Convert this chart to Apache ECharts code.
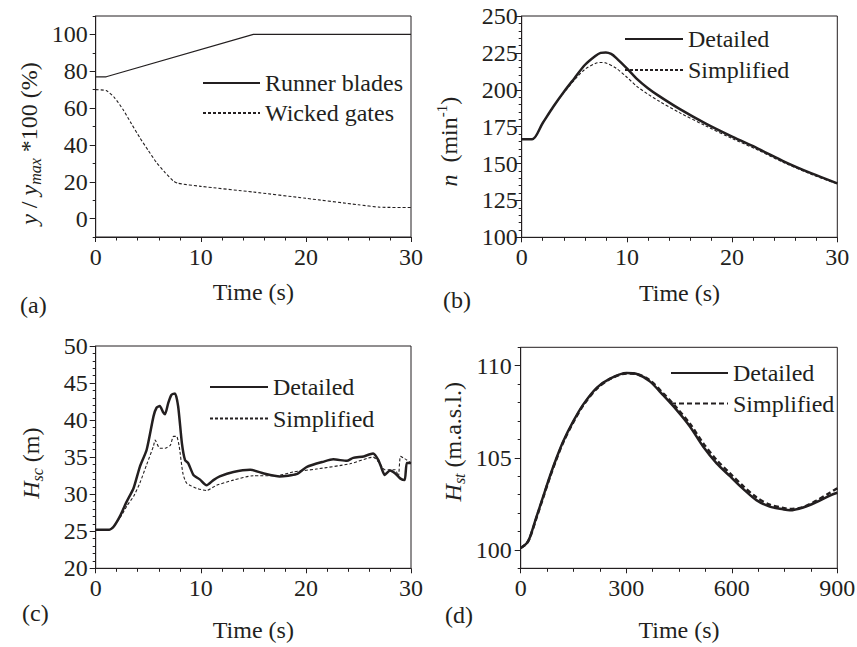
<!DOCTYPE html>
<html>
<head>
<meta charset="utf-8">
<script src="https://cdn.jsdelivr.net/npm/echarts@6/dist/echarts.min.js"></script>
<style>
html,body{margin:0;padding:0;background:#fff;}
#c{width:857px;height:647px;}
</style>
</head>
<body>
<div id="c"></div>
<script>
// ---- Panel (a): guide vane / runner blade openings ----
const runnerT = [0, 1, 15, 30];
const runnerY = [77, 77, 100, 100];
const gatesT = [0, 1, 1.8, 2.6, 3.4, 4.2, 5, 5.8, 6.6, 7.4, 7.8, 10, 15, 20, 25, 27, 30];
const gatesY = [70, 69.5, 65.6, 59.2, 51.5, 43.9, 37, 30.3, 25, 20.4, 19.2, 17.5, 14.4, 11, 7.5, 6.2, 6];

// ---- Panel (b): rotational speed ----
const nDetT = [0, 1, 2, 3, 4, 5, 6, 7, 7.5, 8, 8.5, 9, 10, 11, 12, 13, 15, 17.5, 20, 22.5, 25, 27.5, 30];
const nDetY = [166.5, 166.5, 177.5, 188.5, 198.5, 207.7, 216.8, 222.9, 225, 225.3, 224.3, 221.5, 214.5, 207, 201, 196, 187, 177, 168.2, 160, 151.2, 143.5, 136.6];
const nSimT = [0, 1, 2, 3, 4, 5, 6, 7, 7.5, 8, 9, 10, 11, 12, 13, 15, 17.5, 20, 22.5, 25, 27.5, 30];
const nSimY = [166.5, 166.5, 177.5, 188.5, 198, 206.5, 213.8, 217.8, 218.5, 218.2, 214.5, 208.5, 202, 197, 192.5, 184.5, 175.5, 167, 159, 150.3, 142.8, 136.2];

// ---- Panel (c): spiral case head ----
const hscDetT = [0, 1.3, 1.7, 2.3, 2.95, 3.6, 4.2, 4.85, 5.5, 5.8, 6.1, 6.4, 6.6, 6.9, 7.2, 7.55, 7.85, 8.2, 8.5, 8.8, 9.3, 9.9, 10.55, 11.2, 11.8, 13.1, 14.7, 16, 17.5, 19.1, 20.1, 21.7, 22.6, 23.9, 24.5, 25.5, 26.1, 26.4, 26.9, 27.2, 27.5, 28, 28.5, 29, 29.4, 29.6, 30];
const hscDetY = [25.2, 25.2, 25.6, 27, 29, 30.8, 33.7, 36, 40.5, 41.7, 41.9, 41.1, 40.8, 42.3, 43.4, 43.6, 41.8, 36.9, 34.6, 34.2, 32.6, 32, 31.2, 31.9, 32.4, 33, 33.3, 32.8, 32.4, 32.7, 33.7, 34.4, 34.7, 34.5, 34.9, 35.1, 35.4, 35.5, 34.6, 33.5, 32.6, 33.2, 32.8, 32.1, 31.9, 34.2, 34.2];
const hscSimT = [0, 1.3, 2.3, 3, 3.6, 4.2, 4.85, 5.5, 5.65, 6.1, 6.6, 7.1, 7.4, 7.7, 7.95, 8.3, 8.65, 9.6, 10.55, 11.5, 13.1, 15, 17.2, 18.8, 21, 24.2, 26.4, 27, 27.5, 28, 28.5, 28.8, 29, 29.4, 30];
const hscSimY = [25.2, 25.2, 26.8, 28.5, 29.7, 31.5, 34, 36.5, 37.3, 36.2, 36.2, 36.6, 37.8, 37.8, 36.4, 32.8, 31.5, 30.8, 30.5, 31.2, 31.9, 32.5, 32.5, 33, 33.4, 34.1, 35, 34.2, 33.3, 33.3, 33.3, 32.4, 35.1, 34.8, 34.2];

// ---- Panel (d): surge tank level ----
const hstT = [0, 17, 26.5, 45, 64, 83, 102, 121, 150, 178, 216, 254, 301, 330, 367, 405, 443, 481, 519, 557, 595, 633, 670, 708, 746, 765, 803, 841, 879, 900];
const hstDetY = [100.1, 100.36, 100.7, 101.8, 102.9, 104, 105, 105.9, 107, 107.9, 108.8, 109.3, 109.6, 109.55, 109.15, 108.4, 107.6, 106.7, 105.6, 104.7, 104.0, 103.3, 102.7, 102.35, 102.2, 102.15, 102.3, 102.6, 102.95, 103.1];
const hstSimY = [100.1, 100.35, 100.68, 101.75, 102.85, 103.95, 104.95, 105.85, 106.95, 107.85, 108.75, 109.28, 109.58, 109.55, 109.2, 108.5, 107.72, 106.85, 105.78, 104.88, 104.15, 103.45, 102.85, 102.45, 102.28, 102.22, 102.32, 102.68, 103.1, 103.35];

// ---- axis tick labels ----
const aYLabels = [0, 20, 40, 60, 80, 100];
const dYLabels = [100, 105, 110];

const pairs = (t, v) => t.map((x, i) => [x, v[i]]);

const INK = '#231f20';
const FONT = "'Liberation Serif', 'Times New Roman', Times, serif";
const FS = 24;

function xAxisCfg(grid, max, interval, split, nameGap) {
  return {
    type: 'value', gridIndex: grid, min: 0, max: max, interval: interval,
    name: 'Time (s)', nameLocation: 'middle', nameGap: nameGap,
    nameTextStyle: {color: INK, fontFamily: FONT, fontSize: FS},
    axisLine: {show: true, onZero: false, lineStyle: {color: INK, width: 1}},
    axisTick: {show: true, length: 5, lineStyle: {color: INK}},
    minorTick: {show: true, splitNumber: split, length: 3.5, lineStyle: {color: INK}},
    axisLabel: {color: INK, fontFamily: FONT, fontSize: FS, margin: 8},
    splitLine: {show: false}
  };
}

const nameBase = {color: INK, fontFamily: FONT, fontSize: FS};

function legendCfg(left, top, gap, w, names) {
  return {
    left: left, top: top, orient: 'vertical', itemWidth: w, itemHeight: 14, itemGap: gap,
    padding: 0,
    data: names, formatter: n => n.slice(2),
    itemStyle: {opacity: 0, borderWidth: 0},
    textStyle: {color: INK, fontFamily: FONT, fontSize: FS}, selectedMode: false
  };
}

const option = {
  backgroundColor: '#fff',
  animation: false,
  grid: [
    {left: 95.7, top: 16, width: 315.3, height: 221, show: true, borderColor: INK, borderWidth: 1, outerBoundsMode: 'none'},
    {left: 521.7, top: 16, width: 315.6, height: 221.3, show: true, borderColor: INK, borderWidth: 1, outerBoundsMode: 'none'},
    {left: 95.7, top: 346, width: 315.3, height: 222.3, show: true, borderColor: INK, borderWidth: 1, outerBoundsMode: 'none'},
    {left: 520.7, top: 347.3, width: 316.6, height: 221, show: true, borderColor: INK, borderWidth: 1, outerBoundsMode: 'none'}
  ],
  xAxis: [
    xAxisCfg(0, 30, 10, 5, 43),
    xAxisCfg(1, 30, 10, 5, 44),
    xAxisCfg(2, 30, 10, 5, 50),
    xAxisCfg(3, 900, 300, 4, 50)
  ],
  yAxis: [
    // (a) main
    {
      type: 'value', gridIndex: 0, position: 'left', min: -10, max: 110, interval: 10,
      name: '{i|y} / {i|y}{sub|max}{n| *100 (%)}', nameLocation: 'middle', nameRotate: 90, nameGap: 52,
      nameTextStyle: {
        color: INK, fontFamily: FONT, fontSize: FS, padding: [0, 34, 0, 0],
        rich: {
          i: Object.assign({fontStyle: 'italic'}, nameBase),
          n: Object.assign({}, nameBase),
          sub: {color: INK, fontFamily: FONT, fontSize: 16, fontStyle: 'italic', padding: [14, 0, 0, 0]}
        }
      },
      axisLine: {show: true, onZero: false, lineStyle: {color: INK, width: 1}},
      axisTick: {show: true, length: 6, customValues: aYLabels, lineStyle: {color: INK}},
      axisLabel: {color: INK, fontFamily: FONT, fontSize: FS, margin: 8, customValues: aYLabels},
      splitLine: {show: false}
    },
    // (a) minor ticks
    {
      type: 'value', gridIndex: 0, position: 'left', min: -10, max: 110, interval: 10,
      axisLine: {show: false, onZero: false}, axisTick: {show: true, length: 3, lineStyle: {color: INK}},
      axisLabel: {show: false}, splitLine: {show: false}
    },
    // (b)
    {
      type: 'value', gridIndex: 1, position: 'left', min: 100, max: 250, interval: 25,
      name: '{i|n}  (min{sup|-1})', nameLocation: 'middle', nameRotate: 90, nameGap: 58,
      nameTextStyle: {
        color: INK, fontFamily: FONT, fontSize: FS, padding: [0, 30, 0, 0],
        rich: {
          i: Object.assign({fontStyle: 'italic'}, nameBase),
          sup: {color: INK, fontFamily: FONT, fontSize: 15, padding: [0, 0, 14, 0]}
        }
      },
      axisLine: {show: true, onZero: false, lineStyle: {color: INK, width: 1}},
      axisTick: {show: true, length: 6, lineStyle: {color: INK}},
      minorTick: {show: true, splitNumber: 5, length: 3, lineStyle: {color: INK}},
      axisLabel: {color: INK, fontFamily: FONT, fontSize: FS, margin: 4},
      splitLine: {show: false}
    },
    // (c)
    {
      type: 'value', gridIndex: 2, position: 'left', min: 20, max: 50, interval: 5,
      name: '{i|H}{sub|sc}{n| (m)}', nameLocation: 'middle', nameRotate: 90, nameGap: 50,
      nameTextStyle: {
        color: INK, fontFamily: FONT, fontSize: FS, padding: [0, 12, 0, 0],
        rich: {
          i: Object.assign({fontStyle: 'italic'}, nameBase),
          n: Object.assign({}, nameBase),
          sub: {color: INK, fontFamily: FONT, fontSize: 16, fontStyle: 'italic', padding: [14, 0, 0, 0]}
        }
      },
      axisLine: {show: true, onZero: false, lineStyle: {color: INK, width: 1}},
      axisTick: {show: true, length: 6, lineStyle: {color: INK}},
      minorTick: {show: true, splitNumber: 5, length: 3, lineStyle: {color: INK}},
      axisLabel: {color: INK, fontFamily: FONT, fontSize: FS, margin: 8},
      splitLine: {show: false}
    },
    // (d) main
    {
      type: 'value', gridIndex: 3, position: 'left', min: 99, max: 111, interval: 1,
      name: '{i|H}{sub|st}{n| (m.a.s.l.)}', nameLocation: 'middle', nameRotate: 90, nameGap: 53,
      nameTextStyle: {
        color: INK, fontFamily: FONT, fontSize: FS, padding: [0, 0, 0, 32],
        rich: {
          i: Object.assign({fontStyle: 'italic'}, nameBase),
          n: Object.assign({}, nameBase),
          sub: {color: INK, fontFamily: FONT, fontSize: 16, fontStyle: 'italic', padding: [14, 0, 0, 0]}
        }
      },
      axisLine: {show: true, onZero: false, lineStyle: {color: INK, width: 1}},
      axisTick: {show: true, length: 6, customValues: dYLabels, lineStyle: {color: INK}},
      axisLabel: {color: INK, fontFamily: FONT, fontSize: FS, margin: 9, customValues: dYLabels},
      splitLine: {show: false}
    },
    // (d) minor ticks
    {
      type: 'value', gridIndex: 3, position: 'left', min: 99, max: 111, interval: 1,
      axisLine: {show: false, onZero: false}, axisTick: {show: true, length: 3, lineStyle: {color: INK}},
      axisLabel: {show: false}, splitLine: {show: false}
    }
  ],
  legend: [
    legendCfg(202, 71, 6, 57, ['a:Runner blades', 'a:Wicked gates']),
    legendCfg(624, 27, 7, 58, ['b:Detailed', 'b:Simplified']),
    legendCfg(209, 375, 7.6, 58, ['c:Detailed', 'c:Simplified']),
    legendCfg(670, 361, 6.6, 57, ['d:Detailed', 'd:Simplified'])
  ],
  graphic: [
    {type: 'text', x: 20, y: 305, style: {text: '(a)', fill: INK, fontFamily: FONT, fontSize: FS, verticalAlign: 'middle'}},
    {type: 'text', x: 443, y: 300, style: {text: '(b)', fill: INK, fontFamily: FONT, fontSize: FS, verticalAlign: 'middle'}},
    {type: 'text', x: 22, y: 613, style: {text: '(c)', fill: INK, fontFamily: FONT, fontSize: FS, verticalAlign: 'middle'}},
    {type: 'text', x: 445, y: 615, style: {text: '(d)', fill: INK, fontFamily: FONT, fontSize: FS, verticalAlign: 'middle'}}
  ],
  series: [
    {name: 'a:Runner blades', type: 'line', xAxisIndex: 0, yAxisIndex: 0, data: pairs(runnerT, runnerY),
     symbol: 'none', lineStyle: {color: INK, width: 1.2}, itemStyle: {color: INK}},
    {name: 'a:Wicked gates', type: 'line', xAxisIndex: 0, yAxisIndex: 0, data: pairs(gatesT, gatesY),
     symbol: 'none', smooth: 0.2, lineStyle: {color: INK, width: 1.1, type: [3, 2]}, itemStyle: {color: INK}},
    {name: 'b:Detailed', type: 'line', xAxisIndex: 1, yAxisIndex: 2, data: pairs(nDetT, nDetY),
     symbol: 'none', smooth: 0.3, lineStyle: {color: INK, width: 2.5}, itemStyle: {color: INK}},
    {name: 'b:Simplified', type: 'line', xAxisIndex: 1, yAxisIndex: 2, data: pairs(nSimT, nSimY),
     symbol: 'none', smooth: 0.3, lineStyle: {color: INK, width: 1.1, type: [3, 2]}, itemStyle: {color: INK}},
    {name: 'c:Detailed', type: 'line', xAxisIndex: 2, yAxisIndex: 3, data: pairs(hscDetT, hscDetY),
     symbol: 'none', smooth: 0.2, lineStyle: {color: INK, width: 2.5}, itemStyle: {color: INK}},
    {name: 'c:Simplified', type: 'line', xAxisIndex: 2, yAxisIndex: 3, data: pairs(hscSimT, hscSimY),
     symbol: 'none', smooth: 0.2, lineStyle: {color: INK, width: 1.1, type: [3, 2]}, itemStyle: {color: INK}},
    {name: 'd:Detailed', type: 'line', xAxisIndex: 3, yAxisIndex: 4, data: pairs(hstT, hstDetY),
     symbol: 'none', smooth: 0.3, lineStyle: {color: INK, width: 2.5}, itemStyle: {color: INK}},
    {name: 'd:Simplified', type: 'line', xAxisIndex: 3, yAxisIndex: 4, data: pairs(hstT, hstSimY),
     symbol: 'none', smooth: 0.3, lineStyle: {color: INK, width: 2.5, type: [5, 3]}, itemStyle: {color: INK}}
  ]
};

const chart = echarts.init(document.getElementById('c'), null, {renderer: 'svg'});
chart.setOption(option);
</script>
</body>
</html>
